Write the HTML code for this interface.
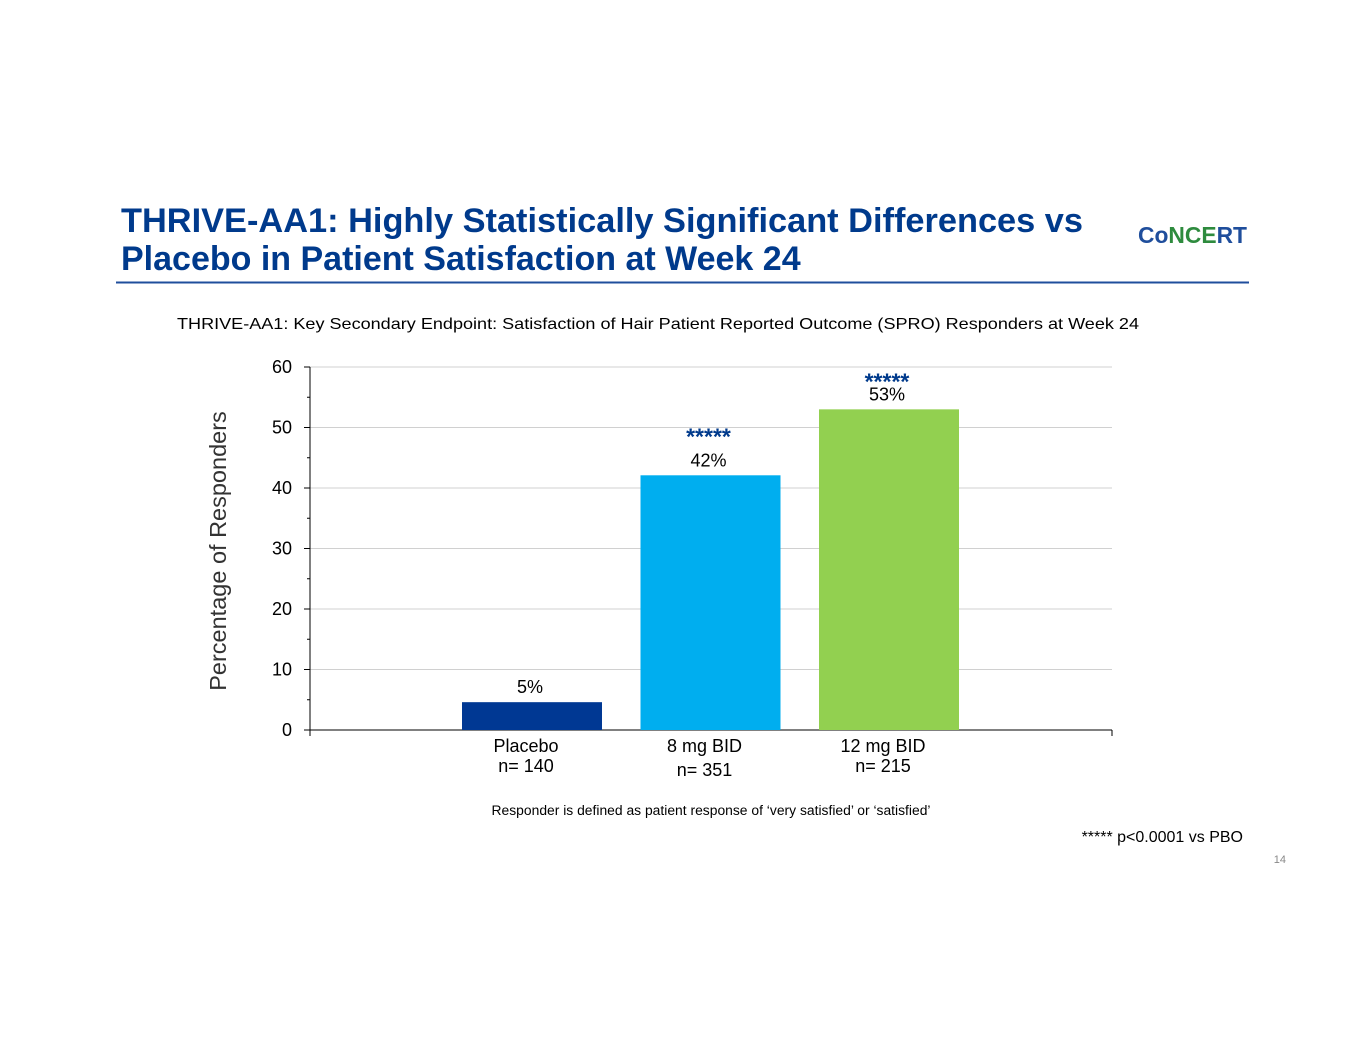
<!DOCTYPE html>
<html><head><meta charset="utf-8"><style>
body{margin:0;background:#fff;}
svg text{font-family:"Liberation Sans",Arial,sans-serif;}
</style></head><body>
<svg width="1365" height="1055" xmlns="http://www.w3.org/2000/svg">
<text x="121" y="232" font-size="34" font-weight="bold" fill="#003a8c" textLength="962" lengthAdjust="spacingAndGlyphs">THRIVE-AA1: Highly Statistically Significant Differences vs</text>
<text x="121" y="270" font-size="34" font-weight="bold" fill="#003a8c">Placebo in Patient Satisfaction at Week 24</text>
<text x="1138" y="243" font-size="23" font-weight="bold" textLength="109" lengthAdjust="spacingAndGlyphs"><tspan fill="#1f4e9c">Co</tspan><tspan fill="#2e8b3e">NCE</tspan><tspan fill="#1f4e9c">RT</tspan></text>
<line x1="116" y1="282.5" x2="1249" y2="282.5" stroke="#1f4e9c" stroke-width="2"/>
<text x="658" y="329" font-size="16" text-anchor="middle" fill="#000" textLength="962" lengthAdjust="spacingAndGlyphs">THRIVE-AA1: Key Secondary Endpoint: Satisfaction of Hair Patient Reported Outcome (SPRO) Responders at Week 24</text>
<g id="chart"></g>
<text x="711" y="815" font-size="13.5" text-anchor="middle" textLength="439" lengthAdjust="spacingAndGlyphs">Responder is defined as patient response of ‘very satisfied’ or ‘satisfied’</text>
<text x="1243" y="842" font-size="16" text-anchor="end">***** p&lt;0.0001 vs PBO</text>
<text x="1286" y="863" font-size="11" text-anchor="end" fill="#888">14</text>
</svg>
<script>
const categories=["Placebo","8 mg BID","12 mg BID"];
const nLabels=["n= 140","n= 351","n= 215"];
const values=[4.6,42.1,53];
const valueLabels=["5%","42%","53%"];
const stars=["","*****","*****"];
const yTicks=[0,10,20,30,40,50,60];
const colors=["#003893","#00aeef","#92d050"];
const NS="http://www.w3.org/2000/svg";
const g=document.getElementById("chart");
const X0=310,X1=1112,Y0=730,Y1=367,YMAX=60;
const y=v=>Y0-(v/YMAX)*(Y0-Y1);
const xc=i=>532+i*178.5;
const BW=140;
function mk(t,a,txt){const e=document.createElementNS(NS,t);for(const k in a)e.setAttribute(k,a[k]);if(txt!=null)e.textContent=txt;g.appendChild(e);return e;}
yTicks.forEach(t=>{
 if(t>0){const l=mk("line",{x1:X0,x2:X1,y1:y(t),y2:y(t),stroke:"#d0d0d0","stroke-width":1});
 
 }
 const tk=mk("line",{x1:X0-6,x2:X0,y1:y(t),y2:y(t),stroke:"#000"});
 
 
 const tl=mk("text",{x:X0-18,y:y(t)+6,"font-size":18,"text-anchor":"end"},t);
 
 
 if(t<YMAX){const m=mk("line",{x1:X0-3,x2:X0,y1:y(t+5),y2:y(t+5),stroke:"#000"});
 
 }
});
const ya=mk("line",{x1:X0,x2:X0,y1:Y1,y2:Y0+6,stroke:"#000"});


const xa=mk("line",{x1:X0,x2:X1,y1:Y0,y2:Y0,stroke:"#000"});


const re=mk("line",{x1:X1,x2:X1,y1:Y0,y2:Y0+6,stroke:"#000"});


const yt=mk("text",{x:0,y:0,"font-size":23.5,"text-anchor":"middle",fill:"#333",transform:"translate(226,551) rotate(-90)"},"Percentage of Responders");


categories.forEach((c,i)=>{
 const b=mk("rect",{x:xc(i)-BW/2,y:y(values[i]),width:BW,height:Y0-y(values[i]),fill:colors[i]});
 
 
 const vl=mk("text",{x:xc(i)-2,y:y(values[i])-9,"font-size":18,"text-anchor":"middle"},valueLabels[i]);
 
 
 if(stars[i]){const s=mk("text",{x:xc(i)-2,y:y(values[i])-[0,31,20][i],"font-size":23,"font-weight":"bold","text-anchor":"middle",fill:"#003a8c"},stars[i]);
 
 }
 const cl=mk("text",{x:xc(i)-6,y:752,"font-size":18,"text-anchor":"middle"},c);
 
 
 const nl=mk("text",{x:xc(i)-6,y:[772,776,772][i],"font-size":18,"text-anchor":"middle"},nLabels[i]);
 
 
});
</script>
</body></html>
